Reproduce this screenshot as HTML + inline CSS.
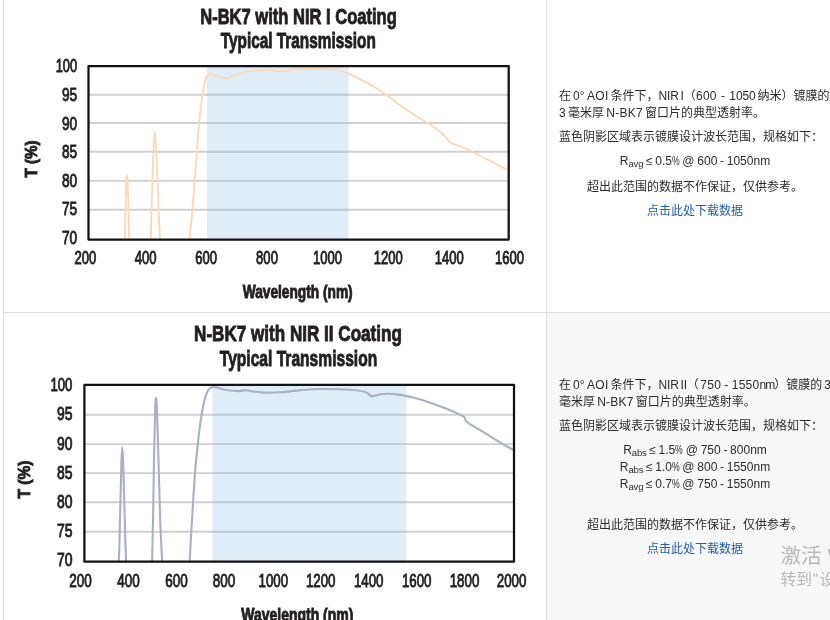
<!DOCTYPE html>
<html lang="zh-CN"><head><meta charset="utf-8"><title>N-BK7 NIR Coating Transmission</title>
<style>
html,body{margin:0;padding:0;background:#fff;}
body{width:830px;height:620px;overflow:hidden;position:relative;font-family:"Liberation Sans","Noto Sans CJK SC",sans-serif;font-size:12px;color:#2b2b2b;}
.bg2{position:absolute;left:547px;top:313px;width:283px;height:307px;background:#f7f7f7;}
.vl{position:absolute;top:0;width:1px;height:620px;background:#dedede;}
.hl{position:absolute;left:3px;top:312px;width:827px;height:1px;background:#dedede;}
svg{position:absolute;left:0;top:0;}
svg text{font-family:"Liberation Sans",sans-serif;fill:#231f20;}
.t{position:absolute;white-space:nowrap;line-height:17px;height:17px;word-spacing:-1.2px;}
.l{letter-spacing:.25px;}
.m{word-spacing:-.6px;}
.n{letter-spacing:-.15px;}
.u{letter-spacing:-.9px;}
.p{display:inline-block;transform:scaleX(.72);transform-origin:0 50%;margin-right:-3px;}
.c{text-align:center;left:559px;width:272px;}
a{color:#2460a8;text-decoration:none;}
sub{font-size:9.5px;vertical-align:baseline;position:relative;top:2px;line-height:0;letter-spacing:-.2px;}
.wm{position:absolute;white-space:nowrap;color:#b9b9b9;left:780.5px;}
</style></head><body>
<div class="bg2"></div>
<div class="vl" style="left:3px"></div><div class="vl" style="left:546px"></div><div class="hl"></div>
<svg width="830" height="620" viewBox="0 0 830 620">
<rect x="207" y="66.1" width="141.5" height="173.5" fill="#e0edf7"/>
<line x1="88.5" x2="508.7" y1="94.8" y2="94.8" stroke="#d0d0d1" stroke-width="1.9"/>
<line x1="207" x2="348.5" y1="94.8" y2="94.8" stroke="#bfcdda" stroke-width="1.9"/>
<line x1="88.5" x2="508.7" y1="123.0" y2="123.0" stroke="#d0d0d1" stroke-width="1.9"/>
<line x1="207" x2="348.5" y1="123.0" y2="123.0" stroke="#bfcdda" stroke-width="1.9"/>
<line x1="88.5" x2="508.7" y1="151.8" y2="151.8" stroke="#d0d0d1" stroke-width="1.9"/>
<line x1="207" x2="348.5" y1="151.8" y2="151.8" stroke="#bfcdda" stroke-width="1.9"/>
<line x1="88.5" x2="508.7" y1="180.9" y2="180.9" stroke="#d0d0d1" stroke-width="1.9"/>
<line x1="207" x2="348.5" y1="180.9" y2="180.9" stroke="#bfcdda" stroke-width="1.9"/>
<line x1="88.5" x2="508.7" y1="209.8" y2="209.8" stroke="#d0d0d1" stroke-width="1.9"/>
<line x1="207" x2="348.5" y1="209.8" y2="209.8" stroke="#bfcdda" stroke-width="1.9"/>
<clipPath id="c1"><rect x="88.5" y="66.1" width="420.2" height="173.5"/></clipPath>
<g clip-path="url(#c1)" fill="none" stroke="#fad8ba" stroke-width="1.8" stroke-linejoin="round" stroke-linecap="round">
<path d="M124.9 246.0C125.0 242.0 125.2 230.0 125.3 222.0C125.4 214.0 125.6 204.8 125.8 198.0C126.0 191.2 126.2 184.8 126.4 181.0C126.6 177.2 126.8 175.0 127.0 175.0C127.2 175.0 127.4 177.2 127.6 181.0C127.8 184.8 128.0 191.2 128.2 198.0C128.4 204.8 128.5 214.0 128.7 222.0C128.9 230.0 129.1 242.0 129.2 246.0"/>
<path d="M150.6 245.0C150.7 240.0 151.1 226.7 151.4 215.0C151.7 203.3 152.2 186.9 152.6 175.0C153.0 163.1 153.4 150.7 153.8 143.5C154.2 136.3 154.5 131.6 154.8 131.6C155.2 131.6 155.5 136.3 155.9 143.5C156.3 150.7 156.8 163.1 157.3 175.0C157.8 186.9 158.3 203.3 158.8 215.0C159.3 226.7 160.0 240.0 160.2 245.0"/>
<path d="M188.8 245.0C189.3 240.0 190.9 227.5 192.0 215.0C193.1 202.5 194.3 185.0 195.5 170.0C196.7 155.0 197.8 137.9 199.0 125.0C200.2 112.1 201.7 100.2 202.8 92.5C203.9 84.8 204.7 81.9 205.6 79.0C206.5 76.1 207.0 75.7 208.2 74.9C209.3 74.1 210.7 74.1 212.5 74.4C214.3 74.7 216.7 76.3 219.0 76.9C221.3 77.5 224.1 78.4 226.6 78.2C229.1 78.0 231.1 76.8 234.2 75.8C237.3 74.8 241.4 72.9 245.0 72.0C248.6 71.1 251.6 70.7 255.9 70.4C260.2 70.1 267.4 70.1 271.0 70.2C274.6 70.3 275.1 71.1 277.6 71.2C280.2 71.3 283.8 71.1 286.3 70.8C288.8 70.5 288.9 69.9 292.8 69.6C296.8 69.3 303.5 69.0 310.0 68.9C316.5 68.8 326.7 68.9 331.8 69.2C336.9 69.5 337.7 69.9 340.5 70.6C343.3 71.3 345.6 72.1 348.5 73.4C351.4 74.7 354.6 76.6 358.1 78.4C361.7 80.2 365.1 81.5 369.8 84.2C374.5 86.9 381.1 91.3 386.2 94.8C391.3 98.3 395.5 102.0 400.2 105.3C404.9 108.6 409.5 111.7 414.2 114.7C418.9 117.7 424.0 120.5 428.3 123.3C432.6 126.1 437.1 129.3 440.0 131.7C442.9 134.0 444.1 135.6 445.8 137.4C447.6 139.2 448.4 141.3 450.5 142.7C452.6 144.1 455.4 144.2 458.7 145.6C462.0 146.9 466.1 148.7 470.4 150.8C474.7 152.9 479.7 155.6 484.4 158.0C489.1 160.4 494.2 163.2 498.5 165.4C502.8 167.6 508.1 170.1 510.0 171.0"/>
</g>
<rect x="88.5" y="66.1" width="420.2" height="173.5" fill="none" stroke="#111" stroke-width="2.25" stroke-linejoin="round"/>
<text x="77.2" y="71.6" text-anchor="end" font-size="17.6" stroke="#231f20" stroke-width="0.9" textLength="21.5" lengthAdjust="spacingAndGlyphs">100</text>
<text x="77.2" y="100.6" text-anchor="end" font-size="17.6" stroke="#231f20" stroke-width="0.9" textLength="15.2" lengthAdjust="spacingAndGlyphs">95</text>
<text x="77.2" y="129.6" text-anchor="end" font-size="17.6" stroke="#231f20" stroke-width="0.9" textLength="15.2" lengthAdjust="spacingAndGlyphs">90</text>
<text x="77.2" y="158.0" text-anchor="end" font-size="17.6" stroke="#231f20" stroke-width="0.9" textLength="15.2" lengthAdjust="spacingAndGlyphs">85</text>
<text x="77.2" y="186.9" text-anchor="end" font-size="17.6" stroke="#231f20" stroke-width="0.9" textLength="15.2" lengthAdjust="spacingAndGlyphs">80</text>
<text x="77.2" y="215.1" text-anchor="end" font-size="17.6" stroke="#231f20" stroke-width="0.9" textLength="15.2" lengthAdjust="spacingAndGlyphs">75</text>
<text x="77.2" y="244.3" text-anchor="end" font-size="17.6" stroke="#231f20" stroke-width="0.9" textLength="15.2" lengthAdjust="spacingAndGlyphs">70</text>
<text x="85.3" y="264.0" text-anchor="middle" font-size="17.6" stroke="#231f20" stroke-width="0.9" textLength="21.8" lengthAdjust="spacingAndGlyphs">200</text>
<text x="145.6" y="264.0" text-anchor="middle" font-size="17.6" stroke="#231f20" stroke-width="0.9" textLength="21.8" lengthAdjust="spacingAndGlyphs">400</text>
<text x="206.2" y="264.0" text-anchor="middle" font-size="17.6" stroke="#231f20" stroke-width="0.9" textLength="21.8" lengthAdjust="spacingAndGlyphs">600</text>
<text x="267" y="264.0" text-anchor="middle" font-size="17.6" stroke="#231f20" stroke-width="0.9" textLength="21.8" lengthAdjust="spacingAndGlyphs">800</text>
<text x="327.5" y="264.0" text-anchor="middle" font-size="17.6" stroke="#231f20" stroke-width="0.9" textLength="29" lengthAdjust="spacingAndGlyphs">1000</text>
<text x="388.2" y="264.0" text-anchor="middle" font-size="17.6" stroke="#231f20" stroke-width="0.9" textLength="29" lengthAdjust="spacingAndGlyphs">1200</text>
<text x="449.2" y="264.0" text-anchor="middle" font-size="17.6" stroke="#231f20" stroke-width="0.9" textLength="29" lengthAdjust="spacingAndGlyphs">1400</text>
<text x="509.4" y="264.0" text-anchor="middle" font-size="17.6" stroke="#231f20" stroke-width="0.9" textLength="29" lengthAdjust="spacingAndGlyphs">1600</text>
<text x="297.7" y="297.5" text-anchor="middle" font-size="17.7" font-weight="bold" stroke="#231f20" stroke-width="0.9" textLength="110" lengthAdjust="spacingAndGlyphs">Wavelength (nm)</text>
<text transform="translate(36.5,159) rotate(-90)" text-anchor="middle" font-size="16.6" font-weight="bold" stroke="#231f20" stroke-width="0.9" textLength="37" lengthAdjust="spacingAndGlyphs">T (%)</text>
<text x="298.5" y="23.6" text-anchor="middle" font-size="22.4" font-weight="bold" stroke="#231f20" stroke-width="0.9" textLength="196.6" lengthAdjust="spacingAndGlyphs">N-BK7 with NIR I Coating</text>
<text x="298.3" y="48.4" text-anchor="middle" font-size="22.4" font-weight="bold" stroke="#231f20" stroke-width="0.9" textLength="155.0" lengthAdjust="spacingAndGlyphs">Typical Transmission</text>
<rect x="212.4" y="384.9" width="193.9" height="176.80000000000007" fill="#e0edf7"/>
<line x1="84.4" x2="514.0" y1="414.8" y2="414.8" stroke="#d0d0d1" stroke-width="1.9"/>
<line x1="212.4" x2="406.3" y1="414.8" y2="414.8" stroke="#bfcdda" stroke-width="1.9"/>
<line x1="84.4" x2="514.0" y1="444.1" y2="444.1" stroke="#d0d0d1" stroke-width="1.9"/>
<line x1="212.4" x2="406.3" y1="444.1" y2="444.1" stroke="#bfcdda" stroke-width="1.9"/>
<line x1="84.4" x2="514.0" y1="473.1" y2="473.1" stroke="#d0d0d1" stroke-width="1.9"/>
<line x1="212.4" x2="406.3" y1="473.1" y2="473.1" stroke="#bfcdda" stroke-width="1.9"/>
<line x1="84.4" x2="514.0" y1="502.3" y2="502.3" stroke="#d0d0d1" stroke-width="1.9"/>
<line x1="212.4" x2="406.3" y1="502.3" y2="502.3" stroke="#bfcdda" stroke-width="1.9"/>
<line x1="84.4" x2="514.0" y1="531.7" y2="531.7" stroke="#d0d0d1" stroke-width="1.9"/>
<line x1="212.4" x2="406.3" y1="531.7" y2="531.7" stroke="#bfcdda" stroke-width="1.9"/>
<clipPath id="c2"><rect x="84.4" y="384.9" width="429.6" height="176.80000000000007"/></clipPath>
<g clip-path="url(#c2)" fill="none" stroke="#abafc2" stroke-width="2.1" stroke-linejoin="round" stroke-linecap="round">
<path d="M118.6 566.0C118.8 561.7 119.2 551.8 119.5 540.0C119.8 528.2 120.3 508.3 120.6 495.0C120.9 481.7 121.2 467.9 121.5 460.0C121.8 452.1 122.0 447.4 122.3 447.4C122.6 447.4 122.8 452.1 123.1 460.0C123.4 467.9 123.7 481.7 124.1 495.0C124.5 508.3 124.9 528.2 125.3 540.0C125.7 551.8 126.1 561.7 126.3 566.0"/>
<path d="M152.0 566.0C152.2 558.3 152.6 539.3 153.0 520.0C153.4 500.7 153.8 468.7 154.2 450.0C154.6 431.3 154.9 416.7 155.2 408.0C155.5 399.3 155.7 397.7 156.0 397.7C156.3 397.7 156.5 399.3 156.9 408.0C157.3 416.7 157.6 431.3 158.2 450.0C158.8 468.7 159.5 500.7 160.2 520.0C160.9 539.3 162.0 558.3 162.4 566.0"/>
<path d="M189.4 566.0C189.8 558.3 191.0 536.1 192.0 520.0C193.0 503.9 194.0 485.2 195.3 469.4C196.6 453.6 198.6 436.4 200.0 425.3C201.4 414.2 202.6 408.5 203.9 402.7C205.2 396.9 206.6 393.0 208.0 390.4C209.4 387.8 210.6 387.8 212.2 387.3C213.8 386.8 215.4 387.2 217.7 387.6C220.0 388.1 222.3 389.4 226.0 390.0C229.7 390.6 236.9 391.1 239.9 391.1C242.9 391.1 242.2 390.1 244.0 390.1C245.8 390.1 247.5 390.7 251.0 391.1C254.5 391.5 259.7 392.4 264.8 392.6C269.9 392.8 275.4 392.6 281.4 392.2C287.4 391.8 294.3 390.6 300.8 390.1C307.3 389.6 313.7 389.1 320.2 389.0C326.7 388.9 333.6 389.0 339.6 389.2C345.6 389.4 351.9 389.7 356.3 390.2C360.7 390.7 363.5 391.2 366.0 392.2C368.5 393.2 369.4 395.7 371.5 396.1C373.6 396.5 375.9 395.1 378.4 394.7C380.9 394.3 383.0 393.8 386.7 393.8C390.4 393.8 396.4 394.3 400.6 394.9C404.8 395.5 408.7 396.5 411.7 397.2C414.7 397.9 415.4 398.0 418.8 399.0C422.2 400.0 427.8 401.8 432.3 403.4C436.8 405.0 441.7 406.8 445.9 408.5C450.1 410.2 454.7 412.2 457.7 413.6C460.7 415.0 462.8 415.8 464.1 417.0C465.4 418.2 464.8 419.6 465.7 420.7C466.6 421.8 467.0 422.1 469.6 423.8C472.2 425.5 477.2 428.3 481.4 430.9C485.6 433.5 491.1 436.9 495.0 439.3C498.9 441.7 501.6 443.3 505.1 445.3C508.6 447.3 514.2 450.5 516.0 451.5"/>
</g>
<rect x="84.4" y="384.9" width="429.6" height="176.80000000000007" fill="none" stroke="#111" stroke-width="2.25" stroke-linejoin="round"/>
<text x="72.4" y="391.0" text-anchor="end" font-size="17.9" stroke="#231f20" stroke-width="0.9" textLength="22" lengthAdjust="spacingAndGlyphs">100</text>
<text x="72.4" y="420.1" text-anchor="end" font-size="17.9" stroke="#231f20" stroke-width="0.9" textLength="15.5" lengthAdjust="spacingAndGlyphs">95</text>
<text x="72.4" y="450.0" text-anchor="end" font-size="17.9" stroke="#231f20" stroke-width="0.9" textLength="15.5" lengthAdjust="spacingAndGlyphs">90</text>
<text x="72.4" y="478.9" text-anchor="end" font-size="17.9" stroke="#231f20" stroke-width="0.9" textLength="15.5" lengthAdjust="spacingAndGlyphs">85</text>
<text x="72.4" y="508.2" text-anchor="end" font-size="17.9" stroke="#231f20" stroke-width="0.9" textLength="15.5" lengthAdjust="spacingAndGlyphs">80</text>
<text x="72.4" y="537.4" text-anchor="end" font-size="17.9" stroke="#231f20" stroke-width="0.9" textLength="15.5" lengthAdjust="spacingAndGlyphs">75</text>
<text x="72.4" y="566.1" text-anchor="end" font-size="17.9" stroke="#231f20" stroke-width="0.9" textLength="15.5" lengthAdjust="spacingAndGlyphs">70</text>
<text x="80.4" y="587.1" text-anchor="middle" font-size="17.9" stroke="#231f20" stroke-width="0.9" textLength="22.5" lengthAdjust="spacingAndGlyphs">200</text>
<text x="128.4" y="587.1" text-anchor="middle" font-size="17.9" stroke="#231f20" stroke-width="0.9" textLength="22.5" lengthAdjust="spacingAndGlyphs">400</text>
<text x="176.4" y="587.1" text-anchor="middle" font-size="17.9" stroke="#231f20" stroke-width="0.9" textLength="22.5" lengthAdjust="spacingAndGlyphs">600</text>
<text x="224.1" y="587.1" text-anchor="middle" font-size="17.9" stroke="#231f20" stroke-width="0.9" textLength="22.5" lengthAdjust="spacingAndGlyphs">800</text>
<text x="273.3" y="587.1" text-anchor="middle" font-size="17.9" stroke="#231f20" stroke-width="0.9" textLength="29.6" lengthAdjust="spacingAndGlyphs">1000</text>
<text x="320.7" y="587.1" text-anchor="middle" font-size="17.9" stroke="#231f20" stroke-width="0.9" textLength="29.6" lengthAdjust="spacingAndGlyphs">1200</text>
<text x="368.7" y="587.1" text-anchor="middle" font-size="17.9" stroke="#231f20" stroke-width="0.9" textLength="29.6" lengthAdjust="spacingAndGlyphs">1400</text>
<text x="416.7" y="587.1" text-anchor="middle" font-size="17.9" stroke="#231f20" stroke-width="0.9" textLength="29.6" lengthAdjust="spacingAndGlyphs">1600</text>
<text x="464.5" y="587.1" text-anchor="middle" font-size="17.9" stroke="#231f20" stroke-width="0.9" textLength="29.6" lengthAdjust="spacingAndGlyphs">1800</text>
<text x="511.6" y="587.1" text-anchor="middle" font-size="17.9" stroke="#231f20" stroke-width="0.9" textLength="29.6" lengthAdjust="spacingAndGlyphs">2000</text>
<text x="297.3" y="621.2" text-anchor="middle" font-size="18.0" font-weight="bold" stroke="#231f20" stroke-width="0.9" textLength="112" lengthAdjust="spacingAndGlyphs">Wavelength (nm)</text>
<text transform="translate(30.3,479.5) rotate(-90)" text-anchor="middle" font-size="16.9" font-weight="bold" stroke="#231f20" stroke-width="0.9" textLength="38" lengthAdjust="spacingAndGlyphs">T (%)</text>
<text x="298.0" y="341.0" text-anchor="middle" font-size="22.8" font-weight="bold" stroke="#231f20" stroke-width="0.9" textLength="207.8" lengthAdjust="spacingAndGlyphs">N-BK7 with NIR II Coating</text>
<text x="298.5" y="366.4" text-anchor="middle" font-size="22.8" font-weight="bold" stroke="#231f20" stroke-width="0.9" textLength="157.4" lengthAdjust="spacingAndGlyphs">Typical Transmission</text>
</svg>
<div class="t" style="left:559px;top:88px;word-spacing:-1.4px;">在 <span class="l">0° AOI</span> 条件下，<span class="n">NIR I</span>（<span class="l" style="margin-left:.3px;word-spacing:.6px">600 - </span><span class="n">1050</span> 纳米）镀膜的</div>
<div class="t" style="left:559px;top:105px;"><span class="l">3</span> 毫米厚 <span class="l">N-BK7</span> 窗口片的典型透射率。</div>
<div class="t" style="left:559px;top:129px;">蓝色阴影区域表示镀膜设计波长范围，规格如下：</div>
<div class="t c" style="top:153px;"><span class="m">R<sub>avg</sub> ≤ 0.5<span class="p">%</span> @ 600 - 1050nm</span></div>
<div class="t c" style="top:179px;">超出此范围的数据不作保证，仅供参考。</div>
<div class="t c" style="top:203px;"><a>点击此处下载数据</a></div>
<div class="t" style="left:559px;top:377px;word-spacing:-1.4px;">在 <span class="l">0° AOI</span> 条件下，<span class="n">NIR II</span>（<span class="l" style="margin-left:1.5px;word-spacing:-.4px">750 - </span><span class="l">1550</span><span class="u">nm</span>）镀膜的 <span class="l">3</span></div>
<div class="t" style="left:559px;top:394px;">毫米厚 <span class="l">N-BK7</span> 窗口片的典型透射率。</div>
<div class="t" style="left:559px;top:418px;">蓝色阴影区域表示镀膜设计波长范围，规格如下：</div>
<div class="t c" style="top:442px;"><span class="m">R<sub>abs</sub> ≤ 1.5<span class="p">%</span> @ 750 - 800nm</span></div>
<div class="t c" style="top:459px;"><span class="m">R<sub>abs</sub> ≤ 1.0<span class="p">%</span> @ 800 - 1550nm</span></div>
<div class="t c" style="top:476px;"><span class="m">R<sub>avg</sub> ≤ 0.7<span class="p">%</span> @ 750 - 1550nm</span></div>
<div class="t c" style="top:517px;">超出此范围的数据不作保证，仅供参考。</div>
<div class="t c" style="top:541px;"><a>点击此处下载数据</a></div>
<div class="wm" style="top:541px;font-size:20.6px;line-height:30px;">激活 Windows</div>
<div class="wm" style="top:569px;font-size:15.7px;line-height:22px;">转到<span style="margin:0 1.5px 0 1px">“</span>设置”以激活 Windows。</div>
</body></html>
